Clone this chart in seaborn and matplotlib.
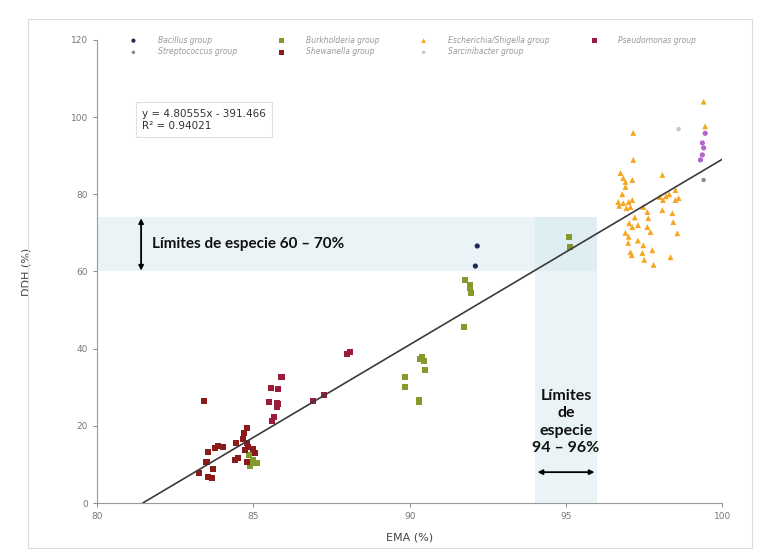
import numpy as np
import pandas as pd
import seaborn as sns
import matplotlib.pyplot as plt
from matplotlib.patches import Rectangle

# Data (EMA %, DDH %)
bacillus_x = [92.16, 92.10]
bacillus_y = [66.6, 61.4]

strepto_x = [99.40]
strepto_y = [83.7]

burkholderia_x = [84.90, 85.00, 84.85, 85.10, 89.86, 89.86, 90.34, 90.40, 90.46, 90.50,
                  90.30, 90.30, 91.78, 91.94, 91.94, 91.97, 91.74, 95.10, 95.13]
burkholderia_y = [9.5, 11.0, 12.5, 10.3, 32.6, 30.0, 37.3, 37.8, 36.8, 34.5,
                  26.7, 26.2, 57.8, 56.5, 55.7, 54.4, 45.6, 69.0, 66.3]

shewanella_x = [83.42, 84.80, 84.70, 84.67, 84.45, 84.80, 84.83, 84.74, 84.99, 85.06,
                84.50, 84.42, 84.80, 83.87, 84.03, 83.78, 83.55, 83.50, 83.70, 83.26,
                83.55, 83.68]
shewanella_y = [26.4, 19.4, 18.1, 16.6, 15.5, 15.5, 14.5, 13.7, 14.0, 12.9,
                11.7, 11.1, 10.6, 14.8, 14.5, 14.2, 13.2, 10.6, 8.8, 7.8,
                6.7, 6.5]

pseudomonas_x = [85.90, 85.57, 85.80, 85.50, 85.76, 85.80, 85.76, 85.66, 85.60, 86.90,
                 87.26, 88.00, 88.10]
pseudomonas_y = [32.6, 29.8, 29.5, 26.2, 25.9, 25.6, 24.9, 22.3, 21.2, 26.4,
                 28.0, 38.6, 39.1]

escherichia_x = [97.15, 97.15, 96.74, 96.83, 96.90, 97.12, 96.90, 98.08, 98.50, 98.60,
                 98.50, 98.00, 96.67, 96.83, 97.00, 97.12, 96.93, 97.06, 97.47, 97.60,
                 97.63, 97.60, 97.70, 98.08, 98.40, 98.43, 98.56, 97.02, 97.12, 96.99,
                 97.06, 97.10, 97.47, 97.44, 97.76, 97.80, 98.34, 98.10, 96.70, 96.80,
                 97.20, 97.30, 96.90, 97.00, 97.50, 97.30, 98.20, 98.30, 99.40, 99.45]
escherichia_y = [95.9, 88.9, 85.5, 84.2, 83.2, 83.7, 81.9, 85.0, 81.1, 79.0,
                 78.5, 79.3, 78.0, 77.7, 78.0, 78.5, 76.4, 76.7, 76.7, 75.4,
                 73.8, 71.5, 70.2, 75.9, 75.1, 72.8, 69.9, 72.5, 71.5, 67.4,
                 65.0, 64.2, 66.8, 64.8, 65.5, 61.7, 63.7, 78.5, 77.0, 80.0,
                 74.0, 72.0, 70.0, 69.0, 63.0, 68.0, 79.5, 80.0, 104.0, 97.6]

sarcinibacter_x = [98.60]
sarcinibacter_y = [96.9]

other_x = [99.45, 99.36, 99.40, 99.36, 99.30]
other_y = [95.8, 93.3, 92.0, 90.2, 88.9]

slope = 4.80555
intercept = -391.466
r2 = 0.94021

sns.set_style('white')
plt.rcParams['font.family'] = ['DejaVu Sans']

fig = plt.figure(figsize=(7.58, 5.54), dpi=100)
ax = fig.add_axes([0.128, 0.092, 0.825, 0.836])

# Shaded species limit bands
band = '#cfe6ee'
ax.add_patch(Rectangle((80, 60), 16, 14, facecolor=band, alpha=0.42, edgecolor='none', zorder=0))
ax.add_patch(Rectangle((94, 0), 2, 74, facecolor=band, alpha=0.42, edgecolor='none', zorder=0))

groups = [
    ('Bacillus group', bacillus_x, bacillus_y, '#1f2a5a', 'o', 14),
    ('Streptococcus group', strepto_x, strepto_y, '#8a8a8a', 'o', 10),
    ('Burkholderia group', burkholderia_x, burkholderia_y, '#849a2c', 's', 20),
    ('Shewanella group', shewanella_x, shewanella_y, '#8b1a1a', 's', 20),
    ('Escherichia/Shigella group', escherichia_x, escherichia_y, '#f5a623', '^', 18),
    ('Sarcinibacter group', sarcinibacter_x, sarcinibacter_y, '#c8c8c8', 'o', 10),
    ('Pseudomonas group', pseudomonas_x, pseudomonas_y, '#9b1c3a', 's', 20),
]
for name, xs, ys, col, mk, sz in groups:
    df = pd.DataFrame({'EMA': xs, 'DDH': ys})
    sns.scatterplot(data=df, x='EMA', y='DDH', color=col, marker=mk, s=sz,
                    edgecolor='none', label=name, ax=ax, zorder=3)
sns.scatterplot(x=other_x, y=other_y, color='#b366c8', marker='o', s=14,
                edgecolor='none', label='_nolegend_', ax=ax, zorder=3)

# Linear trend line
x0 = -intercept / slope
xs_line = np.array([x0, 100])
sns.lineplot(x=xs_line, y=slope * xs_line + intercept, color='#3a3a3a', lw=1.2,
             ax=ax, zorder=4)

ax.text(81.45, 99.3, f'y = {slope}x - {abs(intercept)}\nR² = {r2}', fontsize=7.5,
        color='#333333', va='center', ha='left', linespacing=1.3,
        bbox=dict(boxstyle='square,pad=0.6', facecolor='white', edgecolor='#e0e0e0', lw=0.8))

ax.annotate('', xy=(81.41, 74.5), xytext=(81.41, 59.5),
            arrowprops=dict(arrowstyle='<|-|>', color='black', lw=1.3, mutation_scale=7))
ax.text(81.76, 67, 'Límites de especie 60 – 70%', fontsize=11, fontweight='bold',
        family=['Lato', 'DejaVu Sans'], va='center', ha='left', color='#111111')

ax.annotate('', xy=(94, 8.0), xytext=(96, 8.0),
            arrowprops=dict(arrowstyle='<|-|>', color='black', lw=1.3, mutation_scale=7))
ax.text(95, 21.0, 'Límites\nde\nespecie\n94 – 96%', fontsize=11.5, fontweight='bold',
        family=['Lato', 'DejaVu Sans'], va='center', ha='center', linespacing=1.3,
        color='#111111')

ax.set_xlim(80, 100)
ax.set_ylim(0, 120)
ax.set_xticks([80, 85, 90, 95, 100])
ax.set_yticks(range(0, 121, 20))
ax.tick_params(axis='both', labelsize=6.5, colors='#777777', length=3, width=0.6,
               direction='out', left=True, bottom=True)
for s in ['top', 'right']:
    ax.spines[s].set_visible(False)
for s in ['left', 'bottom']:
    ax.spines[s].set_color('#999999')
    ax.spines[s].set_linewidth(0.8)
ax.set_xlabel('EMA (%)', fontsize=8, color='#444444', labelpad=8)
ax.set_ylabel('DDH (%)', fontsize=8, color='#444444', labelpad=28)

leg = ax.legend(loc='upper left', bbox_to_anchor=(0.035, 1.024), ncol=4, frameon=False,
                prop={'size': 5.5, 'style': 'italic'}, columnspacing=4.8, handletextpad=2.2,
                labelspacing=0.35, markerscale=0.8)
for t in leg.get_texts():
    t.set_color('#999999')

fig.patches.append(Rectangle((0.037, 0.01), 0.955, 0.955, transform=fig.transFigure,
                             fill=False, edgecolor='#dddddd', lw=0.8))

fig.savefig('out.png', dpi=100)
